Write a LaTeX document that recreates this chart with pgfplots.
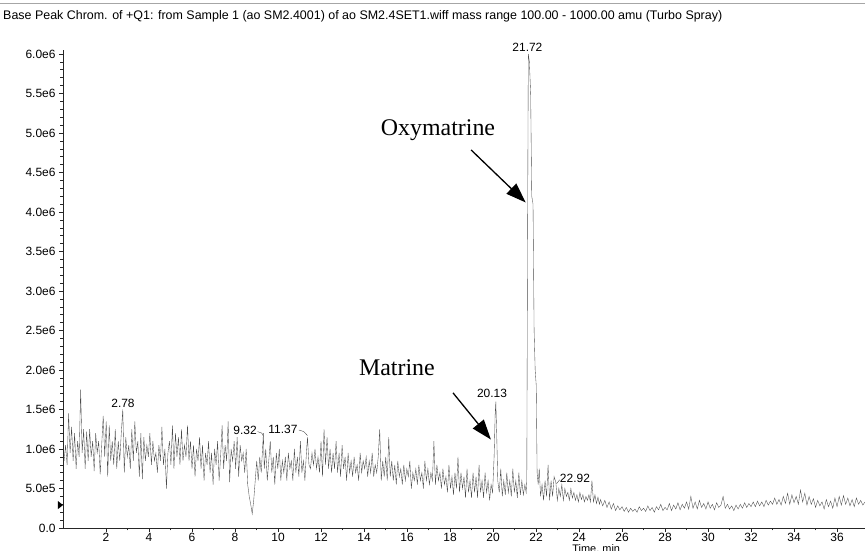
\documentclass[border=0pt]{standalone}
\usepackage{fontspec}
\setmainfont{Liberation Sans}
\newfontfamily\timesf{Liberation Serif}
\usepackage{pgfplots}
\pgfplotsset{compat=1.18}
\usetikzlibrary{arrows.meta}
\begin{document}
\begin{tikzpicture}[x=1bp,y=1bp]
\path[use as bounding box] (-63bp,-23bp) rectangle (802bp,528bp);
\draw[gray!70, line width=0.9bp] (-63bp,525bp) -- (802bp,525bp);
\node[anchor=west, inner sep=0pt, font=\fontsize{12.5}{14}\selectfont] at (-60bp,512bp) {Base Peak Chrom. of +Q1: from Sample 1 (ao SM2.4001) of ao SM2.4SET1.wiff mass range 100.00 - 1000.00 amu (Turbo Spray)};
\begin{axis}[at={(0bp,0bp)}, anchor=south west,
  scale only axis, width=802bp, height=478bp,
  xmin=0, xmax=37.3, ymin=0, ymax=6.05,
  axis x line*=bottom, axis y line*=left,
  axis line style={-, black!85, line width=0.6bp},
  xtick={2,4,...,36}, minor x tick num=1,
  ytick={0,0.5,1,1.5,2,2.5,3,3.5,4,4.5,5,5.5,6},
  yticklabels={0.0,5.0e5,1.0e6,1.5e6,2.0e6,2.5e6,3.0e6,3.5e6,4.0e6,4.5e6,5.0e6,5.5e6,6.0e6},
  minor y tick num=4,
  tick align=outside, major tick length=4bp, minor tick length=2.5bp,
  tick style={black!85, line width=0.5bp},
  ticklabel style={font=\fontsize{12}{14}\selectfont},
  xticklabel style={yshift=2.5bp},
  /pgf/number format/assume math mode=true,
  clip=false]
\addplot[black!70, line width=0.35bp] coordinates {
(0.05,0.85) (0.12,1.05) (0.19,0.8) (0.26,1.45) (0.33,0.95) (0.40,1.28) (0.47,0.85) (0.54,1.2) (0.61,0.75) (0.68,1.1)
(0.75,0.9) (0.82,1.75) (0.89,0.95) (0.96,1.25) (1.03,0.75) (1.10,1.22) (1.17,0.85) (1.24,1.25) (1.31,0.9) (1.38,1.1)
(1.45,0.72) (1.52,1.2) (1.59,0.95) (1.66,1.1) (1.73,0.68) (1.80,1.05) (1.87,1.42) (1.94,0.9) (2.01,1.35) (2.08,0.65)
(2.15,1.3) (2.22,0.85) (2.29,1.1) (2.36,0.8) (2.43,1.25) (2.50,0.75) (2.57,1.1) (2.64,0.85) (2.71,1.2) (2.78,1.5)
(2.85,0.7) (2.92,1.15) (2.99,0.9) (3.06,1.05) (3.13,0.75) (3.20,1.25) (3.27,0.85) (3.34,1.35) (3.41,0.95) (3.48,1.1)
(3.55,0.65) (3.62,1.2) (3.69,0.62) (3.76,1.15) (3.83,0.85) (3.90,1.05) (3.97,0.9) (4.04,1.2) (4.11,0.8) (4.18,1.1)
(4.25,0.85) (4.32,0.95) (4.39,0.7) (4.46,1.05) (4.53,0.85) (4.60,1.28) (4.67,0.8) (4.74,1.0) (4.81,0.5) (4.88,0.95)
(4.95,1.1) (5.02,0.8) (5.09,1.3) (5.16,0.75) (5.23,1.2) (5.30,0.9) (5.37,1.15) (5.44,0.8) (5.51,1.25) (5.58,0.85)
(5.65,1.05) (5.72,0.9) (5.79,1.3) (5.86,0.85) (5.93,1.1) (6.00,0.75) (6.07,1.05) (6.14,0.65) (6.21,1.0) (6.28,0.85)
(6.35,1.15) (6.42,0.75) (6.49,1.05) (6.56,0.6) (6.63,0.95) (6.70,0.8) (6.77,1.1) (6.84,0.7) (6.91,0.95) (6.98,0.55)
(7.05,1.0) (7.12,0.8) (7.19,1.1) (7.26,0.6) (7.33,0.9) (7.40,1.3) (7.47,0.75) (7.54,1.05) (7.61,0.85) (7.68,1.35)
(7.75,0.58) (7.82,1.0) (7.89,0.85) (7.96,1.1) (8.03,0.75) (8.10,1.15) (8.17,0.65) (8.24,1.05) (8.31,0.85) (8.38,0.95)
(8.45,0.7) (8.52,1.0) (8.59,0.55) (8.66,0.4) (8.73,0.3) (8.80,0.18) (8.87,0.35) (8.94,0.6) (9.01,0.85) (9.08,0.6)
(9.15,0.9) (9.22,0.7) (9.29,1.05) (9.32,1.2) (9.36,0.75) (9.43,1.0) (9.50,0.6) (9.57,0.85) (9.64,1.1) (9.71,0.7)
(9.78,0.9) (9.85,0.55) (9.92,0.95) (9.99,0.75) (10.06,1.0) (10.13,0.6) (10.20,0.85) (10.27,0.7) (10.34,0.9) (10.41,0.6)
(10.48,0.95) (10.55,0.75) (10.62,0.85) (10.69,0.6) (10.76,1.0) (10.83,0.7) (10.90,0.9) (10.97,0.65) (11.04,1.1) (11.11,0.7)
(11.18,0.85) (11.25,0.6) (11.32,0.95) (11.37,1.15) (11.44,0.8) (11.51,0.75) (11.58,0.95) (11.65,0.8) (11.72,1.0) (11.79,0.75)
(11.86,0.9) (11.93,0.7) (12.00,1.1) (12.07,0.65) (12.14,1.25) (12.21,0.8) (12.28,1.15) (12.35,0.75) (12.42,1.0) (12.49,0.7)
(12.56,0.95) (12.63,0.75) (12.70,1.1) (12.77,0.7) (12.84,0.95) (12.91,0.65) (12.98,1.05) (13.05,0.75) (13.12,0.9) (13.19,0.6)
(13.26,0.95) (13.33,0.7) (13.40,0.85) (13.47,0.65) (13.54,0.9) (13.61,0.7) (13.68,0.8) (13.75,0.6) (13.82,0.95) (13.89,0.7)
(13.96,0.85) (14.03,0.75) (14.10,0.9) (14.17,0.65) (14.24,0.85) (14.31,0.7) (14.38,0.95) (14.45,0.65) (14.52,0.8) (14.59,0.7)
(14.66,0.9) (14.73,1.25) (14.80,0.6) (14.87,0.85) (14.94,0.65) (15.01,0.9) (15.08,0.6) (15.15,1.15) (15.22,0.65) (15.29,0.85)
(15.36,0.6) (15.43,0.8) (15.50,0.55) (15.57,0.85) (15.64,0.65) (15.71,0.75) (15.78,0.55) (15.85,0.8) (15.92,0.6) (15.99,0.75)
(16.06,0.65) (16.13,0.85) (16.20,0.5) (16.27,0.7) (16.34,0.6) (16.41,0.75) (16.48,0.55) (16.55,0.8) (16.62,0.6) (16.69,0.7)
(16.76,0.5) (16.83,0.85) (16.90,0.6) (16.97,0.75) (17.04,0.55) (17.11,0.7) (17.18,0.6) (17.25,1.1) (17.32,0.55) (17.39,0.8)
(17.46,0.6) (17.53,0.7) (17.60,0.5) (17.67,0.75) (17.74,0.55) (17.81,0.65) (17.88,0.45) (17.95,0.8) (18.02,0.5) (18.09,0.65)
(18.16,0.42) (18.23,0.7) (18.30,0.5) (18.37,0.9) (18.44,0.45) (18.51,0.7) (18.58,0.5) (18.65,0.65) (18.72,0.38) (18.79,0.75)
(18.86,0.45) (18.93,0.6) (19.00,0.38) (19.07,0.7) (19.14,0.45) (19.21,0.65) (19.28,0.38) (19.35,0.8) (19.42,0.45) (19.49,0.6)
(19.56,0.38) (19.63,0.7) (19.70,0.45) (19.77,0.6) (19.84,0.35) (19.91,0.55) (19.98,0.45) (20.05,0.9) (20.10,1.45) (20.13,1.6)
(20.17,1.2) (20.22,0.6) (20.29,0.45) (20.36,0.75) (20.43,0.4) (20.50,0.6) (20.57,0.42) (20.64,0.7) (20.71,0.45) (20.78,0.6)
(20.85,0.4) (20.92,0.75) (20.99,0.45) (21.06,0.6) (21.13,0.38) (21.20,0.7) (21.27,0.42) (21.34,0.6) (21.41,0.42) (21.48,0.55)
(21.54,0.45) (21.57,0.6) (21.60,3.2) (21.64,6.0) (21.69,5.9) (21.75,5.5) (21.80,4.2) (21.86,4.1) (21.91,2.5) (21.96,2.0)
(22.01,1.8) (22.05,0.7) (22.10,0.55) (22.15,0.75) (22.21,0.4) (22.28,0.55) (22.35,0.35) (22.42,0.6) (22.49,0.4) (22.56,0.8) (22.63,0.35)
(22.70,0.6) (22.77,0.4) (22.84,0.65) (22.92,0.58) (22.99,0.35) (23.06,0.5) (23.13,0.4) (23.20,0.55) (23.27,0.35) (23.34,0.5)
(23.41,0.4) (23.48,0.45) (23.55,0.35) (23.62,0.5) (23.69,0.38) (23.76,0.45) (23.83,0.35) (23.90,0.42) (23.97,0.33) (24.04,0.45)
(24.11,0.36) (24.18,0.42) (24.25,0.33) (24.32,0.4) (24.39,0.35) (24.46,0.42) (24.53,0.33) (24.60,0.6) (24.67,0.33) (24.74,0.42)
(24.81,0.31) (24.88,0.39) (24.95,0.3) (25.0,0.36) (25.1,0.28) (25.2,0.35) (25.3,0.26) (25.4,0.33) (25.5,0.24) (25.6,0.31)
(25.7,0.22) (25.8,0.28) (25.9,0.23) (26.0,0.27) (26.1,0.21) (26.2,0.26) (26.3,0.2) (26.4,0.25) (26.5,0.21) (26.6,0.24)
(26.7,0.2) (26.8,0.27) (26.9,0.22) (27.0,0.25) (27.1,0.21) (27.2,0.28) (27.3,0.22) (27.4,0.26) (27.5,0.2) (27.6,0.27)
(27.7,0.23) (27.8,0.3) (27.9,0.22) (28.0,0.26) (28.1,0.23) (28.2,0.31) (28.3,0.22) (28.4,0.29) (28.5,0.24) (28.6,0.32)
(28.7,0.23) (28.8,0.3) (28.9,0.25) (29.0,0.33) (29.1,0.24) (29.2,0.4) (29.3,0.25) (29.4,0.33) (29.5,0.24) (29.6,0.35)
(29.7,0.26) (29.8,0.31) (29.9,0.24) (30.0,0.33) (30.1,0.25) (30.2,0.3) (30.3,0.23) (30.4,0.32) (30.5,0.26) (30.6,0.29)
(30.7,0.4) (30.8,0.25) (30.9,0.3) (31.0,0.24) (31.1,0.28) (31.2,0.22) (31.3,0.29) (31.4,0.24) (31.5,0.3) (31.6,0.25)
(31.7,0.32) (31.8,0.26) (31.9,0.31) (32.0,0.27) (32.1,0.33) (32.2,0.27) (32.3,0.34) (32.4,0.28) (32.5,0.33) (32.6,0.27)
(32.7,0.35) (32.8,0.29) (32.9,0.34) (33.0,0.3) (33.1,0.38) (33.2,0.3) (33.3,0.36) (33.4,0.29) (33.5,0.4) (33.6,0.31)
(33.7,0.44) (33.8,0.3) (33.9,0.42) (34.0,0.32) (34.1,0.4) (34.2,0.3) (34.3,0.48) (34.4,0.33) (34.5,0.44) (34.6,0.29)
(34.7,0.4) (34.8,0.3) (34.9,0.37) (35.0,0.26) (35.1,0.35) (35.2,0.28) (35.3,0.33) (35.4,0.24) (35.5,0.36) (35.6,0.27)
(35.7,0.34) (35.8,0.25) (35.9,0.38) (36.0,0.27) (36.1,0.4) (36.2,0.29) (36.3,0.41) (36.4,0.3) (36.5,0.38) (36.6,0.28)
(36.7,0.36) (36.8,0.27) (36.9,0.38) (37.0,0.3) (37.1,0.35) (37.2,0.29) (37.3,0.33)
};
% peak labels
\node[font=\fontsize{12}{14}\selectfont] at (axis cs:2.79,1.58) {2.78};
\node[font=\fontsize{12}{14}\selectfont] at (axis cs:8.47,1.23) {9.32};
\draw[black!70, line width=0.4bp] (axis cs:9.05,1.22) -- (axis cs:9.25,1.2) -- (axis cs:9.32,1.16);
\node[font=\fontsize{12}{14}\selectfont] at (axis cs:10.23,1.25) {11.37};
\draw[black!70, line width=0.4bp] (axis cs:10.97,1.24) -- (axis cs:11.2,1.22) -- (axis cs:11.37,1.17);
\node[font=\fontsize{12}{14}\selectfont] at (axis cs:19.95,1.71) {20.13};
\node[font=\fontsize{12}{14}\selectfont] at (axis cs:21.6,6.08) {21.72};
\node[font=\fontsize{12}{14}\selectfont] at (axis cs:23.81,0.63) {22.92};
\draw[black!70, line width=0.4bp] (axis cs:23.1,0.61) -- (axis cs:22.95,0.56);
% annotations
\node[font=\timesf\fontsize{24}{28}\selectfont] at (axis cs:17.44,5.03) {Oxymatrine};
\draw[line width=1.3bp, -{Triangle[length=20bp,width=14bp]}] (axis cs:18.98,4.785) -- (axis cs:21.52,4.12);
\node[font=\timesf\fontsize{24}{28}\selectfont] at (axis cs:15.53,2.03) {Matrine};
\draw[line width=1.3bp, -{Triangle[length=20bp,width=14bp]}] (axis cs:18.14,1.71) -- (axis cs:19.9,1.12);
% marker on y axis
\fill (axis cs:0,0.29) -- ++(-5bp,4bp) -- ++(0,-8bp) -- cycle;
% x label
\node[font=\fontsize{11}{13}\selectfont, anchor=north, inner sep=0pt] at (axis cs:24.8,-0.205) {Time, min};
\end{axis}
\end{tikzpicture}
\end{document}
